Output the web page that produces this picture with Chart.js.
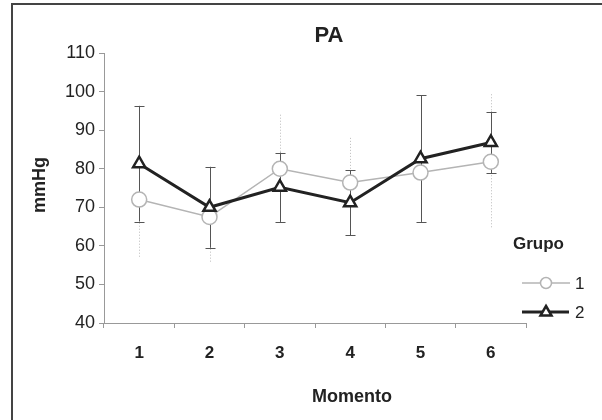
<!DOCTYPE html>
<html lang="pt">
<head>
    <meta charset="UTF-8">
    <title>PA</title>
    <script src="https://cdn.jsdelivr.net/npm/chart.js@4.4.0/dist/chart.umd.min.js"></script>
    <style>
        html, body { margin: 0; padding: 0; background: #fff; overflow: hidden; }
        .wrap { position: relative; width: 602px; height: 420px; }
        .frame {
            position: absolute;
            left: 11px; top: 3px;
            width: 700px; height: 500px;
            border-top: 2px solid #444;
            border-left: 2px solid #444;
            pointer-events: none;
        }
        canvas { position: absolute; left: 0; top: 0; }
    </style>
</head>
<body>
<div class="wrap">
    <canvas id="paChart" width="602" height="420"></canvas>
    <div class="frame"></div>
</div>
<script>
    // --- data ---
    const momentos = ['1', '2', '3', '4', '5', '6'];
    const grupo1Media = [72, 67.5, 80, 76.4, 79, 81.8];
    const grupo1DP = [15, 12, 14, 11.6, 12, 17.5];
    const grupo2Media = [81.3, 70, 75.2, 71.2, 82.6, 86.8];
    const grupo2DP = [15, 10.5, 9, 8.4, 16.4, 8];
    const yTicks = [40, 50, 60, 70, 80, 90, 100, 110];

    const FONT = 'Arial, "Liberation Sans", sans-serif';
    const TEXT = '#222';

    // error bars, drawn under the lines and markers
    const errorBars = {
        id: 'errorBars',
        beforeDatasetsDraw(chart) {
            const ctx = chart.ctx;
            const y = chart.scales.y;
            const sets = [
                { idx: 0, sd: grupo1DP, color: '#bbb', dash: [1, 2], cap: 0 },
                { idx: 1, sd: grupo2DP, color: '#555', dash: [], cap: 5 }
            ];
            ctx.save();
            sets.forEach(s => {
                const meta = chart.getDatasetMeta(s.idx);
                const values = chart.data.datasets[s.idx].data;
                ctx.strokeStyle = s.color;
                ctx.lineWidth = 1;
                ctx.setLineDash(s.dash);
                meta.data.forEach((pt, i) => {
                    const x = Math.round(pt.x) + 0.5;
                    const top = y.getPixelForValue(values[i] + s.sd[i]);
                    const bot = y.getPixelForValue(values[i] - s.sd[i]);
                    ctx.beginPath();
                    ctx.moveTo(x, top);
                    ctx.lineTo(x, bot);
                    if (s.cap) {
                        ctx.moveTo(x - s.cap, Math.round(top) + 0.5);
                        ctx.lineTo(x + s.cap, Math.round(top) + 0.5);
                        ctx.moveTo(x - s.cap, Math.round(bot) + 0.5);
                        ctx.lineTo(x + s.cap, Math.round(bot) + 0.5);
                    }
                    ctx.stroke();
                });
            });
            ctx.restore();
        }
    };

    // titles and the "Grupo" legend
    const labelsAndLegend = {
        id: 'labelsAndLegend',
        afterDraw(chart) {
            const ctx = chart.ctx;
            ctx.save();
            ctx.fillStyle = TEXT;
            ctx.textBaseline = 'middle';
            ctx.textAlign = 'center';

            ctx.font = 'bold 22px ' + FONT;
            ctx.fillText('PA', 329, 36);

            ctx.font = 'bold 18px ' + FONT;
            ctx.fillText('Momento', 352, 397);

            ctx.save();
            ctx.translate(40, 185);
            ctx.rotate(-Math.PI / 2);
            ctx.font = 'bold 18px ' + FONT;
            ctx.fillText('mmHg', 0, 0);
            ctx.restore();

            ctx.textAlign = 'left';
            ctx.font = 'bold 17px ' + FONT;
            ctx.fillText('Grupo', 513, 244);

            // item 1
            ctx.strokeStyle = '#b4b4b4';
            ctx.lineWidth = 1.5;
            ctx.beginPath();
            ctx.moveTo(522, 283); ctx.lineTo(570, 283);
            ctx.stroke();
            ctx.fillStyle = '#fff';
            ctx.beginPath();
            ctx.arc(546, 283, 5.5, 0, Math.PI * 2);
            ctx.fill(); ctx.stroke();

            // item 2
            ctx.strokeStyle = '#222';
            ctx.lineWidth = 3;
            ctx.beginPath();
            ctx.moveTo(522, 312); ctx.lineTo(569, 312);
            ctx.stroke();
            ctx.lineWidth = 2.5;
            ctx.beginPath();
            ctx.moveTo(546, 306); ctx.lineTo(551.5, 315.5); ctx.lineTo(540.5, 315.5); ctx.closePath();
            ctx.fill(); ctx.stroke();

            ctx.fillStyle = TEXT;
            ctx.font = '17px ' + FONT;
            ctx.fillText('1', 575, 284);
            ctx.fillText('2', 575, 313);
            ctx.restore();
        }
    };

    new Chart(document.getElementById('paChart'), {
        type: 'line',
        data: {
            labels: momentos,
            datasets: [
                {
                    label: '1',
                    data: grupo1Media,
                    borderColor: '#b4b4b4',
                    borderWidth: 1.5,
                    pointStyle: 'circle',
                    pointRadius: 7.5,
                    pointBorderWidth: 1.5,
                    pointBorderColor: '#b4b4b4',
                    pointBackgroundColor: '#fff',
                    tension: 0,
                    order: 2
                },
                {
                    label: '2',
                    data: grupo2Media,
                    borderColor: '#222',
                    borderWidth: 3,
                    pointStyle: 'triangle',
                    pointRadius: 7,
                    pointBorderWidth: 2.5,
                    pointBorderColor: '#222',
                    pointBackgroundColor: '#fff',
                    tension: 0,
                    order: 1
                }
            ]
        },
        options: {
            responsive: false,
            animation: false,
            events: [],
            layout: { padding: { left: 0, right: 76, top: 53, bottom: 47 } },
            plugins: {
                legend: { display: false },
                title: { display: false },
                tooltip: { enabled: false }
            },
            scales: {
                x: {
                    type: 'category',
                    offset: true,
                    afterFit(scale) { scale.height = 50; },
                    grid: {
                        offset: true,
                        drawOnChartArea: false,
                        drawTicks: true,
                        tickLength: 5,
                        color: '#999'
                    },
                    border: { display: true, color: '#999', width: 1 },
                    ticks: {
                        color: TEXT,
                        padding: 15,
                        font: { family: FONT, size: 17, weight: 'bold' }
                    }
                },
                y: {
                    min: yTicks[0],
                    max: yTicks[yTicks.length - 1],
                    afterFit(scale) { scale.width = 104; },
                    afterBuildTicks(scale) {
                        scale.ticks = yTicks.map(v => ({ value: v }));
                    },
                    grid: {
                        drawOnChartArea: false,
                        drawTicks: true,
                        tickLength: 5,
                        color: '#999'
                    },
                    border: { display: true, color: '#999', width: 1 },
                    ticks: {
                        color: TEXT,
                        padding: 4,
                        font: { family: FONT, size: 18 }
                    }
                }
            }
        },
        plugins: [errorBars, labelsAndLegend]
    });
</script>
</body>
</html>
